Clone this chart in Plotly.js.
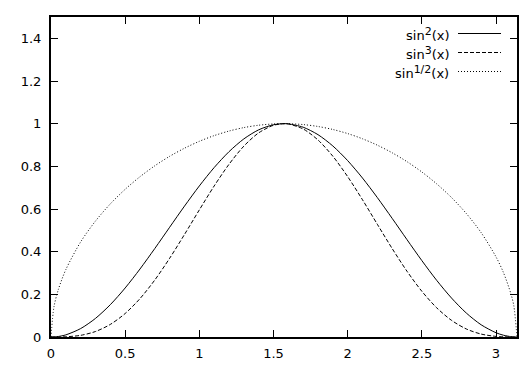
<!DOCTYPE html>
<html>
<head>
<meta charset="utf-8">
<script src="https://cdn.plot.ly/plotly-3.0.1.min.js"></script>
<style>html,body{margin:0;padding:0;background:#fff;}#chart{width:525px;height:369px;}</style>
</head>
<body>
<div id="chart"></div>
<script>
const xs = [0, 0.02, 0.05, 0.1, 0.2, 0.3, 0.4, 0.5, 0.6, 0.7, 0.8, 0.9, 1.0, 1.1, 1.2, 1.3, 1.4, 1.5, 1.5708,
  1.6, 1.7, 1.8, 1.9, 2.0, 2.1, 2.2, 2.3, 2.4, 2.5, 2.6, 2.7, 2.8, 2.9, 3.0, 3.05, 3.1, 3.12, 3.1416];
const sin2 = [0, 0.0004, 0.0025, 0.0100, 0.0395, 0.0873, 0.1516, 0.2298, 0.3188, 0.4150, 0.5146, 0.6136, 0.7081,
  0.7943, 0.8687, 0.9285, 0.9711, 0.9950, 1.0, 0.9991, 0.9834, 0.9484, 0.8955, 0.8268, 0.7451, 0.6536, 0.5561,
  0.4563, 0.3582, 0.2657, 0.1827, 0.1122, 0.0572, 0.0199, 0.0084, 0.0017, 0.0005, 0];
const sin3 = [0, 0.000008, 0.000125, 0.0010, 0.0078, 0.0258, 0.0590, 0.1102, 0.1800, 0.2673, 0.3692, 0.4806, 0.5958,
  0.7079, 0.8096, 0.8947, 0.9569, 0.9925, 1.0, 0.9987, 0.9752, 0.9235, 0.8474, 0.7518, 0.6432, 0.5284, 0.4147,
  0.3082, 0.2144, 0.1370, 0.0781, 0.0376, 0.0137, 0.0028, 0.0008, 0.00007, 0.00001, 0];
const sinHalf = [0, 0.1414, 0.2236, 0.3159, 0.4458, 0.5436, 0.6240, 0.6924, 0.7514, 0.8026, 0.8470, 0.8850, 0.9173,
  0.9440, 0.9654, 0.9816, 0.9927, 0.9987, 1.0, 0.9998, 0.9958, 0.9868, 0.9728, 0.9536, 0.9291, 0.8992, 0.8635,
  0.8219, 0.7736, 0.7180, 0.6538, 0.5788, 0.4891, 0.3756, 0.3025, 0.2040, 0.1470, 0];
const seriesBase = ['sin', 'sin', 'sin'];
const seriesPow = ['2', '3', '1/2'];
const seriesArg = ['(x)', '(x)', '(x)'];
const xTicks = [0, 0.5, 1, 1.5, 2, 2.5, 3];
const yTicks = [0, 0.2, 0.4, 0.6, 0.8, 1, 1.2, 1.4];

const FONT = 'DejaVu Sans, Verdana, sans-serif';
const dashes = ['solid', '4px,2px', '1px,2px'];
const series = [sin2, sin3, sinHalf];
const names = seriesBase.map((b, i) => b + '<sup><span style="font-size:11px">' + seriesPow[i] + '</span></sup>' + seriesArg[i]);
const traces = series.map((ys, i) => ({
  x: xs, y: ys, type: 'scatter', mode: 'lines', name: names[i],
  line: {color: '#000', width: 1, dash: dashes[i], shape: 'spline', smoothing: 0.8},
  showlegend: false, hoverinfo: 'skip'
}));

const W = 525, H = 369, L = 51, R = 8, T = 17, B = 32;
const pw = W - L - R, ph = H - T - B;
const px = v => (v - L) / pw;
const py = v => (H - B - v) / ph;

const annotations = [], shapes = [];
const rowY = [34, 53, 72];
names.forEach((n, i) => {
  annotations.push({
    xref: 'paper', yref: 'paper', x: px(451), y: py(rowY[i]), xanchor: 'right', yanchor: 'middle',
    text: n, showarrow: false, font: {family: FONT, size: 13, color: '#000'}
  });
  shapes.push({
    type: 'line', xref: 'paper', yref: 'paper', x0: px(458), x1: px(501), y0: py(rowY[i] - 0.5), y1: py(rowY[i] - 0.5),
    line: {color: '#000', width: 1, dash: dashes[i]}
  });
});

const axisCommon = {
  showline: true, linecolor: '#000', linewidth: 2, mirror: 'ticks',
  ticks: 'inside', ticklen: 7, tickwidth: 1, tickcolor: '#000',
  showgrid: false, zeroline: false,
  tickfont: {family: FONT, size: 13, color: '#000'}
};

const layout = {
  width: W, height: H,
  margin: {l: L, r: R, t: T, b: B, pad: 0},
  paper_bgcolor: '#fff', plot_bgcolor: '#fff',
  xaxis: Object.assign({}, axisCommon, {range: [0, 3.1416], tickvals: xTicks, ticktext: xTicks.map(String), ticklabelstandoff: 3}),
  yaxis: Object.assign({}, axisCommon, {range: [0, 1.5], tickvals: yTicks, ticktext: yTicks.map(String), ticklabelstandoff: 5}),
  annotations: annotations, shapes: shapes, showlegend: false
};

Plotly.newPlot('chart', traces, layout, {staticPlot: true, displayModeBar: false});
</script>
</body>
</html>
